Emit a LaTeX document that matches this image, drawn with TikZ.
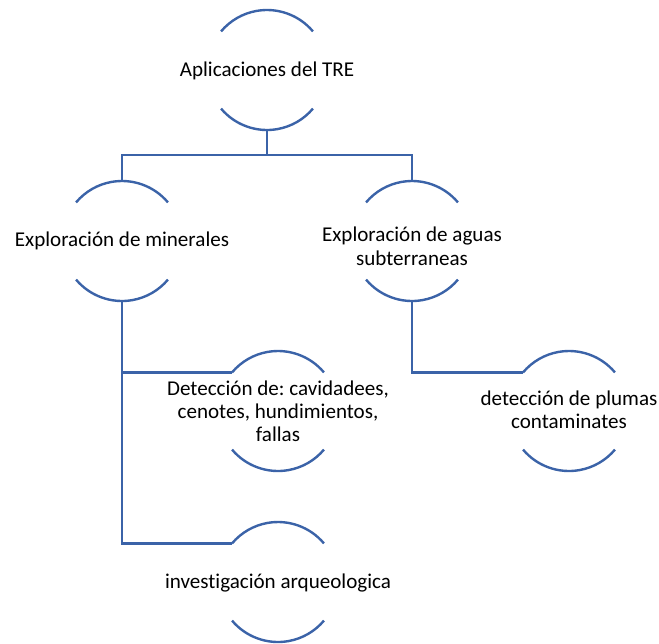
\documentclass[tikz,border=0pt]{standalone}
\usepackage{fontspec}
\setmainfont{Carlito}[Ligatures={NoCommon,NoContextual}]
\usetikzlibrary{calc}
\definecolor{lineblue}{RGB}{59,99,168}
\frenchspacing
\begin{document}
\begin{tikzpicture}[x=0.75pt,y=0.75pt,
  ring/.style={circle,minimum size=90pt,inner sep=0pt,outer sep=0pt,draw=none},
  txt/.style={font=\fontsize{15.8}{17.5}\selectfont,align=center,inner sep=0pt,anchor=base,text=black},
  arcline/.style={draw=lineblue,line width=1.8pt},
  conn/.style={draw=lineblue,line width=1.8pt}]
\useasboundingbox (0,0) rectangle (659,-643);
% circles (invisible) that carry the arcs
\node[ring] (top) at (267,-70) {};
\node[ring] (min) at (122,-241) {};
\node[ring] (agu) at (412,-241) {};
\node[ring] (det) at (278,-411) {};
\node[ring] (plu) at (569,-411) {};
\node[ring] (arq) at (278,-582) {};
% texts (base anchor = baseline of the last line)
\node[txt] (topt) at ([yshift=-4.5pt]top.center) {Aplicaciones del TRE};
\node[txt] (mint) at ([yshift=-4.3pt]min.center) {Exploración de minerales};
\node[txt] (agut) at ([yshift=-18pt]agu.center) {Exploración de aguas\\subterraneas};
\node[txt] (dett) at ([yshift=-23pt]det.center) {Detección de:\ cavidadees,\\cenotes, hundimientos,\\fallas};
\node[txt] (plut) at ([yshift=-13pt]plu.center) {detección de plumas\\contaminates};
\node[txt] (arqt) at ([yshift=-4.5pt]arq.center) {investigación arqueologica};
% arcs
\foreach \n in {top,min,agu,det,plu,arq}{
  \draw[arcline] (\n.40) arc[start angle=40,end angle=140,radius=60];
  \draw[arcline] (\n.220) arc[start angle=220,end angle=320,radius=60];
}
% connectors
\draw[conn] (top.south) -- ++(0,-25) coordinate (bus);
\draw[conn] (min.north) |- (bus) -| (agu.north);
\draw[conn] (min.south) |- (det.140);
\draw[conn] (min.south) |- (arq.140);
\draw[conn] (agu.south) |- (plu.140);
\end{tikzpicture}
\end{document}
